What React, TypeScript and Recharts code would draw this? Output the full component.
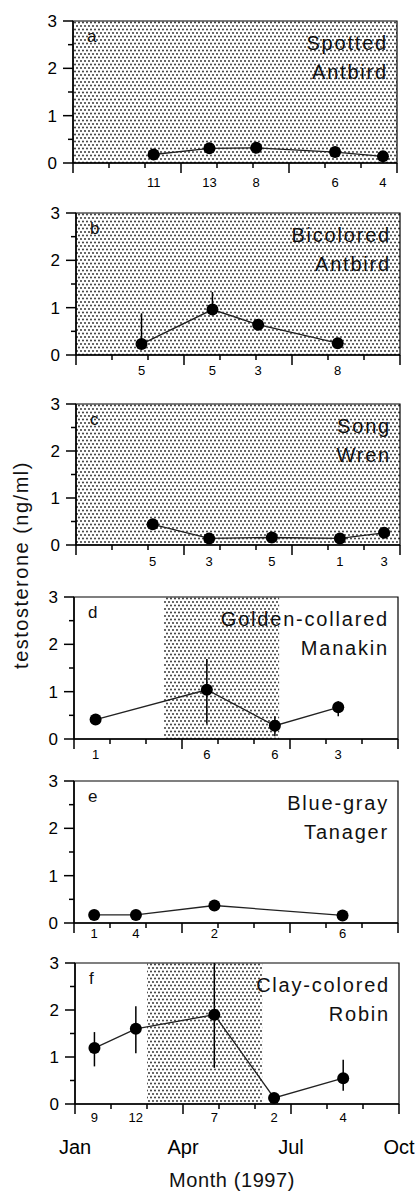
import React from "react";
import { LineChart, Line, XAxis, YAxis, ReferenceArea, ErrorBar } from "recharts";

// month axis: 0 = Jan 1 ... 9 = Oct 1
const MONTH_TICKS = [0, 1, 2, 3, 4, 5, 6, 7, 8, 9];
const MONTH_LABEL_TICKS = [0, 3, 6, 9];
const MONTH_LABELS = ["Jan", "Apr", "Jul", "Oct"];
const Y_TICKS = [0, 0.5, 1, 1.5, 2, 2.5, 3];

// a — Spotted Antbird
const aMonth = [2.24, 3.79, 5.09, 7.28, 8.61];
const aValue = [0.18, 0.31, 0.32, 0.23, 0.14];
const aN = [11, 13, 8, 6, 4];

// b — Bicolored Antbird
const bMonth = [1.82, 3.79, 5.06, 7.27];
const bValue = [0.23, 0.96, 0.64, 0.25];
const bN = [5, 5, 3, 8];
const bLow = [0.12, 0.85, null, null];
const bHigh = [0.88, 1.33, null, null];

// c — Song Wren
const cMonth = [2.13, 3.7, 5.44, 7.33, 8.56];
const cValue = [0.44, 0.14, 0.16, 0.14, 0.26];
const cN = [5, 3, 5, 1, 3];
const cLow = [null, null, null, null, 0.16];
const cHigh = [null, null, null, null, 0.36];

// d — Golden-collared Manakin
const dMonth = [0.6, 3.69, 5.58, 7.34];
const dValue = [0.41, 1.04, 0.28, 0.67];
const dN = [1, 6, 6, 3];
const dLow = [null, 0.32, 0.06, 0.48];
const dHigh = [null, 1.69, 0.48, 0.8];

// e — Blue-gray Tanager
const eMonth = [0.56, 1.72, 3.9, 7.46];
const eValue = [0.17, 0.17, 0.37, 0.16];
const eN = [1, 4, 2, 6];

// f — Clay-colored Robin
const fMonth = [0.54, 1.69, 3.87, 5.53, 7.45];
const fValue = [1.19, 1.6, 1.9, 0.13, 0.55];
const fN = [9, 12, 7, 2, 4];
const fLow = [0.8, 1.08, 0.77, null, 0.28];
const fHigh = [1.53, 2.08, 3.0, null, 0.94];

const PLOT_W = 324;
const TICK_AXIS_H = 5;
const FONT = "'Liberation Sans', Arial, sans-serif";
const AXIS = { stroke: "#000", strokeWidth: 1.5 };

type Nullable = (number | null)[];

function buildRows(month: number[], value: number[], low?: Nullable, high?: Nullable) {
  return month.map((m, i) => {
    const lo = low ? low[i] : null;
    const hi = high ? high[i] : null;
    return {
      month: m,
      value: value[i],
      err: lo == null || hi == null ? undefined : [value[i] - lo, hi - value[i]],
    };
  });
}

function MonthTick(props: any) {
  const { x, y, payload } = props;
  const len = payload.value % 3 === 0 ? 10 : 5;
  return <line x1={x} x2={x} y1={y} y2={y + len} stroke="#000" strokeWidth={1.5} />;
}

function ValueTick(props: any) {
  const { x, y, payload } = props;
  const major = Number.isInteger(payload.value);
  return (
    <g>
      <line x1={x - (major ? 10 : 5)} x2={x} y1={y} y2={y} stroke="#000" strokeWidth={1.5} />
      {major && (
        <text x={x - 16} y={y} dy="0.36em" textAnchor="end" fontSize={17} fill="#000">
          {payload.value}
        </text>
      )}
    </g>
  );
}

type PanelProps = {
  id: string;
  top: number;
  left: number;
  plotH: number;
  gap: number;
  month: number[];
  value: number[];
  n: number[];
  low?: Nullable;
  high?: Nullable;
  shade?: [number, number];
  showMonths?: boolean;
};

function Panel({ id, top, left, plotH, gap, month, value, n, low, high, shade, showMonths }: PanelProps) {
  const rows = buildRows(month, value, low, high);
  const marginTop = 10;
  const height = marginTop + plotH + TICK_AXIS_H + 24 + (showMonths ? 30 : 0);
  return (
    <div style={{ position: "absolute", left: 0, top: top - marginTop }}>
      <LineChart
        width={420}
        height={height}
        data={rows}
        margin={{ top: marginTop, right: 420 - left - PLOT_W, left: left - 31, bottom: 0 }}
      >
        <defs>
          <pattern id={`dots-${id}`} width="4" height="7" patternUnits="userSpaceOnUse">
            <rect width="4" height="7" fill="#fff" />
            <circle cx="1" cy="1" r="0.9" fill="#222" />
            <circle cx="3" cy="4.5" r="0.9" fill="#222" />
          </pattern>
        </defs>
        {shade && (
          <ReferenceArea
            xAxisId="a1"
            yAxisId="b1"
            x1={shade[0]}
            x2={shade[1]}
            y1={0}
            y2={3}
            fill={`url(#dots-${id})`}
            fillOpacity={1}
            stroke="none"
          />
        )}
        <ReferenceArea xAxisId="a1" yAxisId="b1" x1={0} x2={9} y1={0} y2={3} fill="none" stroke="#000" strokeWidth={1.2} />
        {showMonths && (
          <XAxis
            xAxisId="a4"
            type="number"
            dataKey="month"
            domain={[0, 9]}
            allowDataOverflow
            ticks={MONTH_LABEL_TICKS}
            interval={0}
            height={30}
            tickSize={0}
            tickMargin={7}
            tickLine={false}
            axisLine={false}
            tickFormatter={(_v: number, i: number) => MONTH_LABELS[i]}
            tick={{ fill: "#000", fontSize: 20 }}
          />
        )}
        {/* sample sizes under each point */}
        <XAxis
          xAxisId="a3"
          type="number"
          dataKey="month"
          domain={[0, 9]}
          allowDataOverflow
          ticks={month}
          interval={0}
          height={24}
          tickSize={0}
          tickMargin={gap - TICK_AXIS_H}
          tickLine={false}
          axisLine={false}
          tickFormatter={(_v: number, i: number) => String(n[i])}
          tick={{ fill: "#000", fontSize: 13 }}
        />
        <XAxis
          xAxisId="a1"
          type="number"
          dataKey="month"
          domain={[0, 9]}
          ticks={MONTH_TICKS}
          interval={0}
          height={TICK_AXIS_H}
          tickSize={0}
          tickMargin={0}
          tickLine={false}
          tick={MonthTick}
          axisLine={AXIS}
        />
        <YAxis
          yAxisId="b1"
          type="number"
          dataKey="value"
          domain={[0, 3]}
          ticks={Y_TICKS}
          interval={0}
          width={31}
          tickSize={0}
          tickMargin={0}
          tickLine={false}
          tick={ValueTick}
          axisLine={AXIS}
        />
        <Line
          xAxisId="a1"
          yAxisId="b1"
          type="linear"
          dataKey="value"
          stroke="#222"
          strokeWidth={1.3}
          dot={{ r: 6, fill: "#000", stroke: "#000", strokeWidth: 0 }}
          activeDot={false}
          isAnimationActive={false}
        >
          {high && <ErrorBar dataKey="err" direction="y" width={0} stroke="#000" strokeWidth={1.5} />}
        </Line>
      </LineChart>
    </div>
  );
}

const PANELS = [
  { id: "a", name: ["Spotted", "Antbird"], top: 21, left: 73 },
  { id: "b", name: ["Bicolored", "Antbird"], top: 213, left: 76 },
  { id: "c", name: ["Song", "Wren"], top: 404, left: 76 },
  { id: "d", name: ["Golden-collared", "Manakin"], top: 597, left: 74 },
  { id: "e", name: ["Blue-gray", "Tanager"], top: 781, left: 74 },
  { id: "f", name: ["Clay-colored", "Robin"], top: 962.5, left: 75 },
];

export default function App() {
  return (
    <div
      style={{
        position: "absolute",
        left: 0,
        top: 0,
        width: 420,
        height: 1191,
        background: "#fff",
        fontFamily: FONT,
        overflow: "hidden",
      }}
    >
      <Panel id="a" top={21} left={73} plotH={142} gap={15} month={aMonth} value={aValue} n={aN} shade={[0, 9]} />
      <Panel id="b" top={213} left={76} plotH={142} gap={11} month={bMonth} value={bValue} n={bN} low={bLow} high={bHigh} shade={[0, 9]} />
      <Panel id="c" top={404} left={76} plotH={141} gap={12} month={cMonth} value={cValue} n={cN} low={cLow} high={cHigh} shade={[0, 9]} />
      <Panel id="d" top={597} left={74} plotH={142} gap={11} month={dMonth} value={dValue} n={dN} low={dLow} high={dHigh} shade={[2.5, 5.7]} />
      <Panel id="e" top={781} left={74} plotH={142} gap={6} month={eMonth} value={eValue} n={eN} />
      <Panel id="f" top={962.5} left={75} plotH={141} gap={8.5} month={fMonth} value={fValue} n={fN} low={fLow} high={fHigh} shade={[2.0, 5.2]} showMonths />
      <svg
        width={420}
        height={1191}
        style={{ position: "absolute", left: 0, top: 0, pointerEvents: "none", fontFamily: FONT }}
      >
        {PANELS.map((p) => (
          <g key={p.id} fill="#111">
            <text x={p.left + 14} y={p.top + 21} fontSize={17}>
              {p.id}
            </text>
            <text x={p.left + PLOT_W - 9} y={p.top + 29} fontSize={20} letterSpacing={1.8} textAnchor="end">
              {p.name[0]}
            </text>
            <text x={p.left + PLOT_W - 9} y={p.top + 58} fontSize={20} letterSpacing={1.8} textAnchor="end">
              {p.name[1]}
            </text>
          </g>
        ))}
        <text
          x={28}
          y={565}
          fontSize={20}
          letterSpacing={1.5}
          textAnchor="middle"
          fill="#111"
          transform="rotate(-90 28 565)"
        >
          testosterone (ng/ml)
        </text>
        <text x={232} y={1187} fontSize={20} letterSpacing={0.6} textAnchor="middle" fill="#111">
          Month (1997)
        </text>
      </svg>
    </div>
  );
}
